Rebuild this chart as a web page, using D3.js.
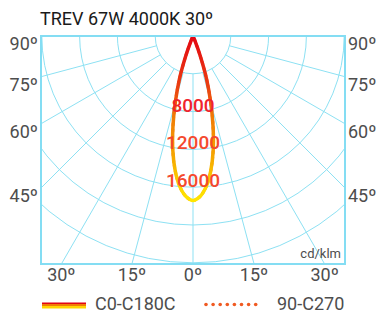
<!DOCTYPE html>
<html>
<head>
<meta charset="utf-8">
<script src="https://cdn.jsdelivr.net/npm/d3@7"></script>
<style>
  body { margin: 0; background: #fff; }
  svg text { font-family: Roboto, "DejaVu Sans", sans-serif; }
</style>
</head>
<body>
<svg id="chart" width="378" height="313"></svg>
<script>
// intensity in cd/klm, angle from nadir (deg), symmetric both sides
var angles = [0, 2.5, 5, 7.5, 10, 12.5, 15, 17.5, 20, 22.5, 25, 30];
var c0c180 = [17400, 17000, 16000, 14400, 12300, 9800, 7200, 4800, 2200, 500, 0, 0];
var c90c270 = [17400, 17000, 16000, 14400, 12300, 9800, 7200, 4800, 2200, 500, 0, 0];

var rings = [4000, 8000, 12000, 16000, 20000, 24000];
var ringLabels = [8000, 12000, 16000];
var spokes = [-75, -60, -45, -30, -15, 0, 15, 30, 45, 60, 75];
var sideTicks = [90, 75, 60, 45];
var bottomTicks = [-30, -15, 0, 15, 30];

var title = "TREV 67W 4000K 30º";
var units = "cd/klm";
var legendNames = ["C0-C180C", "90-C270"];

var svg = d3.select("#chart");

var box = { left: 41, right: 345, top: 36, bottom: 264 },
    cx = (box.left + box.right) / 2,
    cy = box.top;

var r = d3.scaleLinear().domain([0, 24000]).range([0, 226.8]);
var rad = function (deg) { return deg * Math.PI / 180; };

var grid = "#8de1f3", labelGrey = "#4d4d4d";

var defs = svg.append("defs");
defs.append("clipPath").attr("id", "clip")
    .append("rect")
    .attr("x", box.left).attr("y", box.top)
    .attr("width", box.right - box.left).attr("height", box.bottom - box.top);

// gradient in the path's own (translated) space
var grad = defs.append("linearGradient")
    .attr("id", "beam")
    .attr("gradientUnits", "userSpaceOnUse")
    .attr("x1", 0).attr("y1", 0).attr("x2", 0).attr("y2", r(17400));
[[0, "#e30613"], [0.3, "#ea3d12"], [0.5, "#f07d05"], [0.75, "#f6ab00"], [0.92, "#fdd800"], [1, "#ffe600"]].forEach(function (s) {
    grad.append("stop").attr("offset", s[0]).attr("stop-color", s[1]);
});

var stripes = defs.append("linearGradient")
    .attr("id", "stripes").attr("x1", 0).attr("y1", 0).attr("x2", 0).attr("y2", 1);
[[0, "#e30613"], [0.33, "#e30613"], [0.33, "#f07d05"], [0.66, "#f07d05"], [0.66, "#ffd500"], [1, "#ffd500"]].forEach(function (s) {
    stripes.append("stop").attr("offset", s[0]).attr("stop-color", s[1]);
});

// grid
var g = svg.append("g").attr("clip-path", "url(#clip)");

g.selectAll(".ring")
    .data(rings)
    .enter().append("circle")
    .attr("cx", cx).attr("cy", cy)
    .attr("r", function (d) { return r(d); })
    .attr("fill", "none").attr("stroke", grid).attr("stroke-width", 1);

g.selectAll(".spoke")
    .data(spokes)
    .enter().append("line")
    .attr("x1", function (d) { return cx + r(rings[0]) * Math.sin(rad(d)); })
    .attr("y1", function (d) { return cy + r(rings[0]) * Math.cos(rad(d)); })
    .attr("x2", function (d) { return cx + 600 * Math.sin(rad(d)); })
    .attr("y2", function (d) { return cy + 600 * Math.cos(rad(d)); })
    .attr("stroke", grid).attr("stroke-width", 1);

// curves
function fullCurve(vals) {
    var pts = [];
    for (var i = angles.length - 1; i > 0; i--) pts.push([-angles[i], vals[i]]);
    for (var j = 0; j < angles.length; j++) pts.push([angles[j], vals[j]]);
    return pts;
}

var line = d3.lineRadial()
    .angle(function (d) { return Math.PI - rad(d[0]); })
    .radius(function (d) { return r(d[1]); })
    .curve(d3.curveCatmullRom);

g.append("path")
    .attr("transform", "translate(" + cx + "," + cy + ")")
    .attr("d", line(fullCurve(c90c270)))
    .attr("fill", "none")
    .attr("stroke", "#f26522").attr("stroke-width", 3)
    .attr("stroke-dasharray", "2,4").attr("stroke-linecap", "round");

g.append("path")
    .attr("transform", "translate(" + cx + "," + cy + ")")
    .attr("d", line(fullCurve(c0c180)))
    .attr("fill", "none")
    .attr("stroke", "url(#beam)").attr("stroke-width", 3.5)
    .attr("stroke-linejoin", "round");

// ring labels, on top of the curve
g.selectAll(".ringLabel")
    .data(ringLabels)
    .enter().append("text")
    .attr("x", cx)
    .attr("y", function (d) { return cy + r(d); })
    .attr("text-anchor", "middle")
    .attr("font-size", 19)
    .attr("font-weight", 500)
    .attr("fill", function (d) { return d === 8000 ? "#f0242c" : "#f4492e"; })
    .text(function (d) { return d; });

// frame
svg.append("rect")
    .attr("x", box.left).attr("y", box.top)
    .attr("width", box.right - box.left).attr("height", box.bottom - box.top)
    .attr("fill", "none").attr("stroke", "#84ddf3").attr("stroke-width", 2);

// side labels
var sideY = function (d) {
    return d === 90 ? cy : cy + (cx - box.left) / Math.tan(rad(d));
};
svg.selectAll(".leftTick")
    .data(sideTicks)
    .enter().append("text")
    .attr("x", box.left - 3)
    .attr("y", function (d) { return sideY(d) + 14; })
    .attr("text-anchor", "end")
    .attr("font-size", 18).attr("fill", labelGrey)
    .text(function (d) { return d + "º"; });

svg.selectAll(".rightTick")
    .data(sideTicks)
    .enter().append("text")
    .attr("x", box.right + 3)
    .attr("y", function (d) { return sideY(d) + 14; })
    .attr("font-size", 18).attr("fill", labelGrey)
    .text(function (d) { return d + "º"; });

svg.selectAll(".bottomTick")
    .data(bottomTicks)
    .enter().append("text")
    .attr("x", function (d) { return cx + (box.bottom - cy) * Math.tan(rad(d)); })
    .attr("y", box.bottom + 17)
    .attr("text-anchor", "middle")
    .attr("font-size", 18).attr("fill", labelGrey)
    .text(function (d) { return Math.abs(d) + "º"; });

svg.append("text")
    .attr("x", box.right - 4).attr("y", box.bottom - 6)
    .attr("text-anchor", "end")
    .attr("font-size", 13).attr("fill", labelGrey)
    .text(units);

svg.append("text")
    .attr("x", 40).attr("y", 25)
    .attr("font-size", 18).attr("fill", "#1a1a1a")
    .text(title);

// legend
svg.append("rect")
    .attr("x", 42).attr("y", 302.5).attr("width", 44).attr("height", 6)
    .attr("fill", "url(#stripes)");
svg.append("text")
    .attr("x", 95).attr("y", 310)
    .attr("font-size", 18).attr("fill", labelGrey)
    .text(legendNames[0]);

svg.selectAll(".dot")
    .data(d3.range(8))
    .enter().append("circle")
    .attr("cx", function (d) { return 206 + d * 7.1; })
    .attr("cy", 304.5).attr("r", 1.8)
    .attr("fill", "#f05a22");
svg.append("text")
    .attr("x", 277).attr("y", 310)
    .attr("font-size", 18).attr("fill", labelGrey)
    .text(legendNames[1]);
</script>
</body>
</html>
